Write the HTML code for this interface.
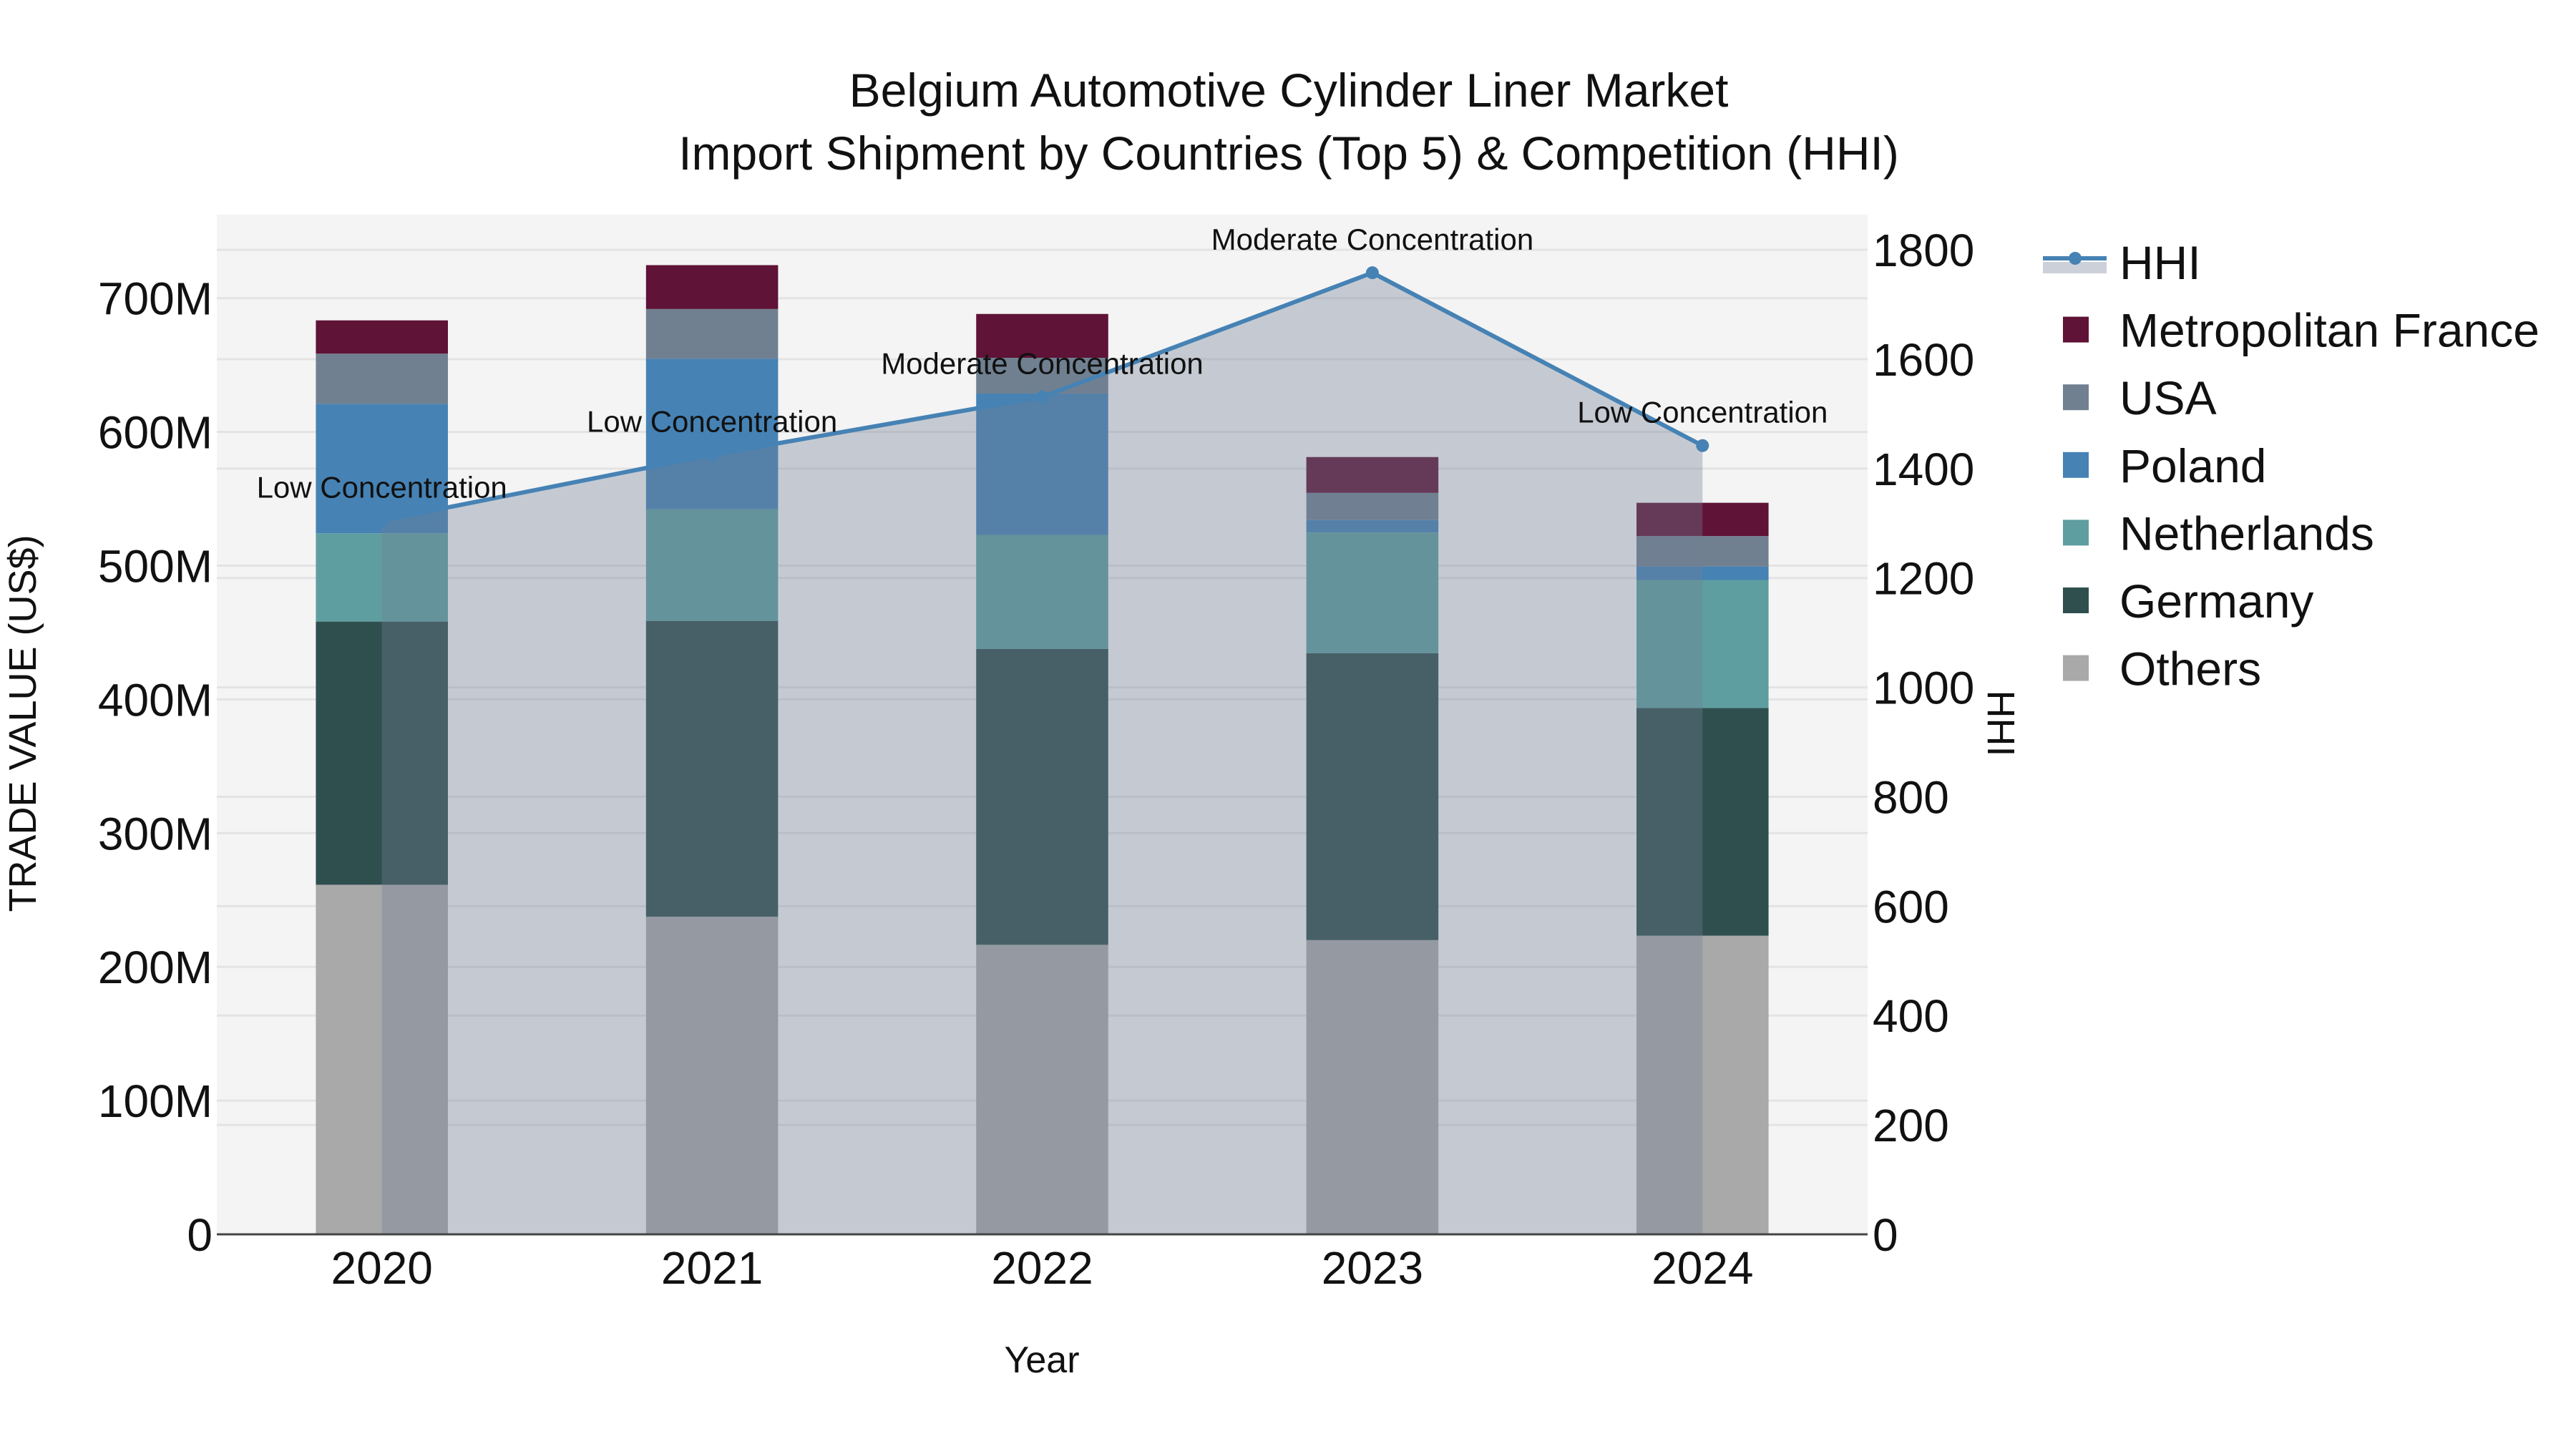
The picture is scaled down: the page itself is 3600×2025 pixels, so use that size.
<!DOCTYPE html>
<html><head><meta charset="utf-8"><style>
body{margin:0;background:#fff;}
svg{display:block;font-family:"Liberation Sans",sans-serif;}
</style></head><body>
<svg id="c" width="3600" height="2025" xmlns="http://www.w3.org/2000/svg"></svg>
<script>
const years = ["2020","2021","2022","2023","2024"];
const others = [261.4, 237.5, 216.5, 220, 223.3];
const germany = [196.8, 221.2, 221.2, 214.5, 170.3];
const netherlands = [66, 83.5, 85.3, 90.3, 95.7];
const poland = [96.8, 112.6, 105.7, 9.3, 10.1];
const usa = [37.5, 37.1, 26.7, 20.3, 22.7];
const france = [24.9, 32.8, 32.8, 26.8, 24.9];
const hhi = [1305, 1425, 1531, 1758, 1442];
const hhiLabels = ["Low Concentration","Low Concentration","Moderate Concentration","Moderate Concentration","Low Concentration"];
const leftTicks = [0,100,200,300,400,500,600,700];
const rightTicks = [0,200,400,600,800,1000,1200,1400,1600,1800];

const NS="http://www.w3.org/2000/svg";
const svg=document.getElementById('c');
const L=303,R=2610,T=300,B=1725;
const band=(R-L)/years.length, bw=band*0.4;
const xc=i=>L+band*(i+0.5);
const yL=v=>B-v*1.869;
const yR=v=>B-v*0.7644;
function mk(tag,attrs,parent){const e=document.createElementNS(NS,tag);for(const k in attrs)e.setAttribute(k,attrs[k]);(parent||svg).appendChild(e);return e;}

const bg=mk('rect',{x:L,y:T,width:R-L,height:B-T,fill:'#f4f4f4'});



rightTicks.forEach(t=>{const g=mk('line',{x1:L,x2:R,y1:yR(t),y2:yR(t),stroke:'#e3e3e3','stroke-width':3});


const tx=mk('text',{x:2617,y:yR(t)+23,'font-size':64,fill:'#111'});tx.textContent=t;

});
leftTicks.forEach(t=>{const g=mk('line',{x1:L,x2:R,y1:yL(t),y2:yL(t),stroke:'#e3e3e3','stroke-width':3});


const tx=mk('text',{x:297,y:yL(t)+23,'font-size':64,fill:'#111','text-anchor':'end'});tx.textContent=t===0?'0':t+'M';

});

const series=[["others",others,"#a9a9a9"],["germany",germany,"#2f4f4f"],["netherlands",netherlands,"#5f9ea0"],["poland",poland,"#4682b4"],["usa",usa,"#708090"],["france",france,"#5f1336"]];
years.forEach((y,i)=>{let base=0;series.forEach(s=>{const v=s[1][i];const r=mk('rect',{x:xc(i)-bw/2,y:yL(base+v),width:bw,height:yL(base)-yL(base+v),fill:s[2]});


base+=v;});});

let pts=hhi.map((v,i)=>xc(i)+','+yR(v)).join(' ');
const area=mk('polygon',{points:xc(0)+','+B+' '+pts+' '+xc(hhi.length-1)+','+B,fill:'rgba(115,128,150,0.36)'});


const line=mk('polyline',{points:pts,fill:'none',stroke:'#4682b4','stroke-width':6});


hhi.forEach((v,i)=>{const c=mk('circle',{cx:xc(i),cy:yR(v),r:9,fill:'#4682b4'});


const a=mk('text',{x:xc(i),y:yR(v)-32,'font-size':42,'text-anchor':'middle',fill:'#111'});a.textContent=hhiLabels[i];

});

const ax=mk('line',{x1:L,x2:R,y1:B,y2:B,stroke:'#444','stroke-width':3});


years.forEach((y,i)=>{const t=mk('text',{x:xc(i),y:1794,'font-size':64,'text-anchor':'middle',fill:'#111'});t.textContent=y;

});

function txt(name,s,attrs){const t=mk('text',attrs);t.textContent=s;return t;}
txt('chart-title-line1','Belgium Automotive Cylinder Liner Market',{x:1801,y:149,'font-size':66,'text-anchor':'middle',fill:'#111'});
txt('chart-title-line2','Import Shipment by Countries (Top 5) & Competition (HHI)',{x:1801,y:237,'font-size':66,'text-anchor':'middle',fill:'#111'});
txt('x-axis-title','Year',{x:1456,y:1918,'font-size':52,'text-anchor':'middle',fill:'#111'});
txt('y-axis-title','TRADE VALUE (US$)',{x:0,y:0,'font-size':54,'text-anchor':'middle',fill:'#111',transform:'translate(50,1011) rotate(-90)'});
txt('y2-axis-title','HHI',{x:0,y:0,'font-size':54,'text-anchor':'middle',fill:'#111',transform:'translate(2778,1011) rotate(90)'});

const leg=[["HHI",null],["Metropolitan France","#5f1336"],["USA","#708090"],["Poland","#4682b4"],["Netherlands","#5f9ea0"],["Germany","#2f4f4f"],["Others","#a9a9a9"]];
leg.forEach((l,k)=>{const cy=366+k*94.6;
if(l[1]===null){mk('rect',{x:2855,y:cy,width:89,height:16,fill:'rgba(115,128,150,0.36)'});mk('line',{x1:2855,x2:2944,y1:cy-5,y2:cy-5,stroke:'#4682b4','stroke-width':6});mk('circle',{cx:2900,cy:cy-5,r:9,fill:'#4682b4'});}
else{const s=mk('rect',{x:2883,y:cy-18,width:36,height:36,fill:l[1]});}
const t=mk('text',{x:2962,y:cy+24,'font-size':66,fill:'#111'});t.textContent=l[0];

});
</script>
</body></html>
